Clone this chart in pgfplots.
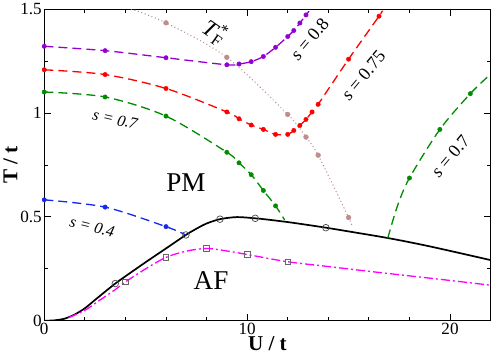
\documentclass[border=0pt]{standalone}
\usepackage{fontspec}
\setmainfont{Liberation Serif}
\usepackage{pgfplots}
\pgfplotsset{compat=1.18}
\definecolor{gviolet}{RGB}{148,0,211}
\definecolor{ggreen}{RGB}{0,139,0}
\definecolor{gbrown}{RGB}{188,143,143}
\definecolor{gblue}{RGB}{20,40,240}
\definecolor{gmagenta}{RGB}{255,0,255}

\begin{document}
\begin{tikzpicture}
  \begin{axis}[
      width=444pt, height=310pt, scale only axis,
      xmin=0, xmax=22, ymin=0, ymax=1.5,
      xtick={0,10,20}, minor x tick num=4,
      ytick={0,0.5,1,1.5}, minor y tick num=1,
      tick align=inside,
      major tick length=7pt, minor tick length=4pt,
      axis line style={line width=0.8pt},
      every tick/.style={black, line width=0.8pt},
      tick label style={font=\fontsize{17}{17}\selectfont},
      xticklabel style={yshift=1pt},
      yticklabel style={xshift=1pt},
      /pgf/number format/assume math mode=true,
      xlabel={\textbf{U / t}}, ylabel={\textbf{T / t}},
      label style={font=\fontsize{21}{21}\selectfont},
      xlabel style={yshift=5pt},
      ylabel style={yshift=-4pt},
      dashline/.style={line width=1.3pt, dash pattern=on 9pt off 5pt},
      dots/.style={only marks, mark=*, mark size=2.2pt},
    ]
    % AF transition (solid) and circles
    \addplot[black, line width=1.7pt, smooth] coordinates {
      (0,0) (0.5,0.002) (1,0.01) (1.5,0.03) (2,0.06) (2.5,0.1) (3,0.14)
      (3.5,0.179) (4,0.214) (5,0.282) (6,0.348) (6.98,0.413) (7.5,0.443)
      (8,0.468) (8.66,0.489) (9.5,0.499) (10.4,0.493) (11,0.487) (12,0.475)
      (13,0.461) (13.88,0.448) (15,0.43) (17,0.397) (19,0.358) (22,0.292)};
    \addplot[only marks, mark=o, mark size=3.3pt, draw=black!70, line width=0.7pt] coordinates {
      (3.5,0.179) (6.98,0.413) (8.66,0.489) (10.4,0.493) (13.88,0.448)};
    % dash-dot with squares
    \addplot[gmagenta, line width=1.3pt, smooth,
      dash pattern=on 9pt off 3pt on 2pt off 3pt] coordinates {
      (1.2,0.015) (2,0.05) (2.6,0.09) (3.5,0.15) (4,0.187) (5,0.25) (6,0.305)
      (7,0.335) (8,0.348) (9,0.336) (10,0.319) (12,0.284) (14,0.261)
      (16,0.238) (18,0.216) (20,0.194) (22,0.171)};
    \addplot[only marks, mark=square, mark size=2.8pt, draw=black!60, line width=0.7pt] coordinates {
      (4,0.187) (6,0.305) (8,0.348) (10,0.319) (12,0.284)};
    % s = 0.4
    \addplot[gblue, dashline, smooth] coordinates {
      (0,0.582) (3,0.547) (6,0.453) (6.98,0.413)};
    \addplot[gblue, dots] coordinates {(0,0.582) (3,0.547) (6,0.453)};
    % s = 0.7 (left)
    \addplot[ggreen, dashline, smooth] coordinates {
      (0,1.101) (3,1.077) (6,0.985) (9,0.811) (9.6,0.76) (10.2,0.703)
      (10.8,0.627) (11.4,0.553) (11.85,0.485)};
    \addplot[ggreen, dots] coordinates {
      (0,1.101) (3,1.077) (6,0.985) (9,0.811) (9.6,0.76) (10.2,0.703)
      (10.8,0.627) (11.4,0.553)};
    % s = 0.7 (right)
    \addplot[ggreen, dashline, smooth] coordinates {
      (16.93,0.397) (17.4,0.55) (18,0.687) (19.5,0.921) (21,1.093) (22,1.187)};
    \addplot[ggreen, dots] coordinates {(18,0.687) (19.5,0.921) (21,1.093)};
    % s = 0.75
    \addplot[red, dashline, smooth] coordinates {
      (0,1.208) (3,1.185) (6,1.118) (9,1.005) (9.6,0.972) (10.2,0.942)
      (10.8,0.921) (11.4,0.897) (12,0.897) (12.3,0.916) (12.6,0.94)
      (12.9,0.969) (13.2,1.005) (13.5,1.042) (15,1.259) (16.5,1.466) (16.65,1.49)};
    \addplot[red, dots] coordinates {
      (0,1.208) (3,1.185) (6,1.118) (9,1.005) (9.6,0.972) (10.2,0.942)
      (10.8,0.921) (11.4,0.897) (12,0.897) (12.3,0.916) (12.6,0.94)
      (12.9,0.969) (13.2,1.005) (13.5,1.042) (15,1.259) (16.5,1.466)};
    % s = 0.8
    \addplot[gviolet, dashline, smooth] coordinates {
      (0,1.321) (3,1.3) (6,1.266) (9,1.232) (9.6,1.236) (10.2,1.247)
      (10.8,1.272) (11.4,1.316) (12,1.368) (12.3,1.397) (12.6,1.433)
      (12.9,1.472) (13.05,1.49)};
    \addplot[gviolet, dots] coordinates {
      (0,1.321) (3,1.3) (6,1.266) (9,1.232) (9.6,1.236) (10.2,1.247)
      (10.8,1.272) (11.4,1.316) (12,1.368) (12.3,1.397) (12.6,1.433)
      (12.9,1.472)};
    % T_F^*
    \addplot[gbrown, line width=1.4pt, smooth, line cap=round,
      dash pattern=on 0.1pt off 3.5pt] coordinates {
      (4.3,1.5) (6,1.434) (9,1.268) (12,0.993) (12.9,0.884) (13.5,0.797)
      (15,0.497) (15.15,0.46)};
    \addplot[gbrown, only marks, mark=*, mark size=2.4pt] coordinates {
      (6,1.434) (9,1.268) (12,0.993) (12.9,0.884) (13.5,0.797) (15,0.497)};
    % labels
    \node[rotate=-35, font=\fontsize{23}{23}\selectfont] at (axis cs:8.4,1.39)
      {\textit{T}\rlap{\textsuperscript{*}}\textsubscript{F}};
    \node[rotate=50, font=\fontsize{18}{18}\selectfont] at (axis cs:13.08,1.356) {\textit{s} = 0.8};
    \node[rotate=50, font=\fontsize{18}{18}\selectfont] at (axis cs:15.73,1.182) {\textit{s} = 0.75};
    \node[rotate=50, font=\fontsize{18}{18}\selectfont] at (axis cs:20.02,0.792) {\textit{s} = 0.7};
    \node[rotate=-13, font=\fontsize{16}{16}\selectfont] at (axis cs:3.51,0.969) {\textit{s = 0.7}};
    \node[rotate=-14, font=\fontsize{16}{16}\selectfont] at (axis cs:2.36,0.453) {\textit{s = 0.4}};
    \node[font=\fontsize{27}{27}\selectfont] at (axis cs:6.98,0.663) {PM};
    \node[font=\fontsize{27}{27}\selectfont] at (axis cs:8.22,0.192) {AF};
  \end{axis}
\end{tikzpicture}
\end{document}
